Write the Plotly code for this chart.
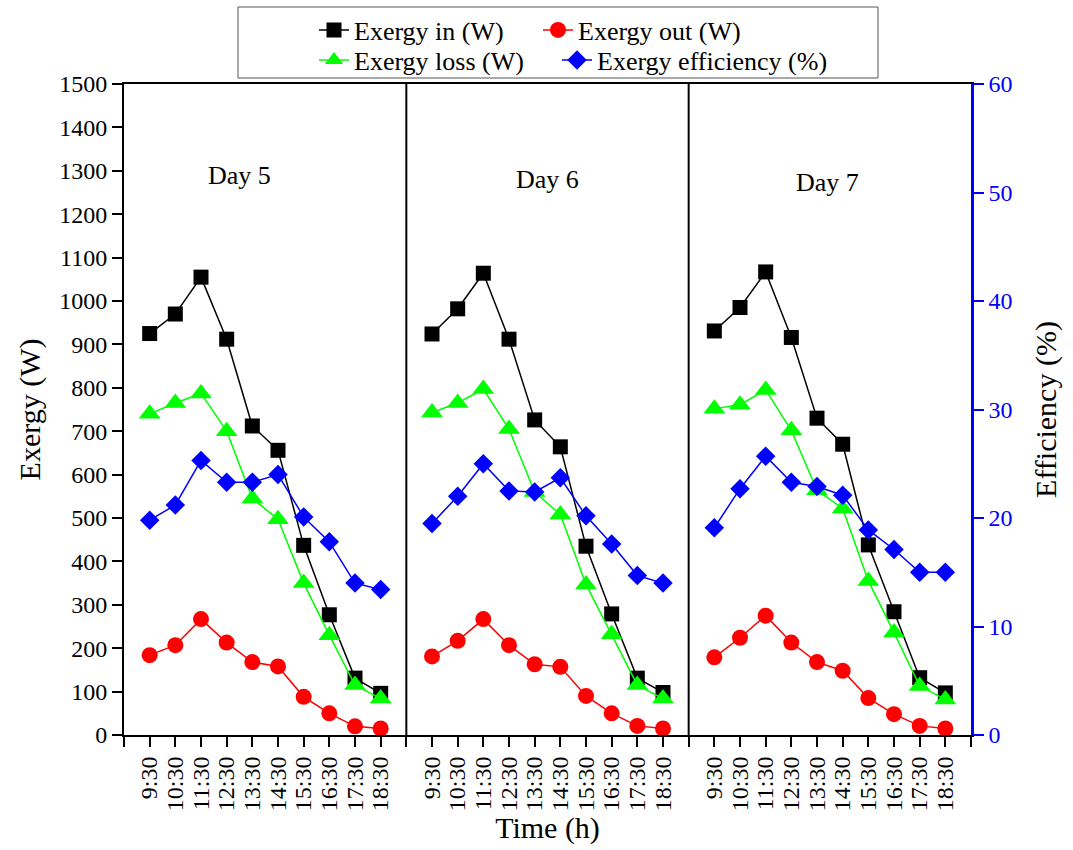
import plotly.graph_objects as go

# Measurement times for each day
times = ["9:30", "10:30", "11:30", "12:30", "13:30", "14:30", "15:30", "16:30", "17:30", "18:30"]
days = ["Day 5", "Day 6", "Day 7"]

# Hourly values, one inner list per day (Day 5, Day 6, Day 7)
exergy_in = [
    [925, 970, 1055, 912, 712, 656, 437, 277, 131, 96],
    [924, 982, 1064, 912, 726, 664, 435, 279, 131, 98],
    [931, 985, 1067, 916, 730, 670, 438, 284, 132, 97],
]
exergy_out = [
    [184, 207, 267, 213, 168, 158, 88, 50, 20, 15],
    [181, 217, 267, 207, 163, 157, 90, 50, 21, 15],
    [179, 224, 275, 213, 168, 148, 85, 48, 21, 15],
]
exergy_loss = [
    [740, 765, 787, 700, 545, 497, 350, 230, 115, 84],
    [743, 765, 797, 705, 560, 508, 347, 232, 115, 84],
    [752, 761, 795, 702, 564, 522, 355, 236, 113, 82],
]
exergy_eff = [
    [19.8, 21.2, 25.3, 23.3, 23.3, 24.0, 20.1, 17.8, 14.0, 13.4],
    [19.5, 22.0, 25.0, 22.5, 22.4, 23.7, 20.2, 17.6, 14.7, 14.0],
    [19.1, 22.7, 25.7, 23.3, 22.9, 22.1, 18.9, 17.1, 15.0, 15.0],
]

FONT = "Liberation Serif, Times New Roman, serif"
n = len(times)
slot = n + 1  # each day panel spans n points plus one empty slot


def panel_series(values):
    """Flatten per-day lists onto one axis, breaking the line between days."""
    xs, ys = [], []
    for d, day_vals in enumerate(values):
        for i, v in enumerate(day_vals):
            xs.append(d * slot + i + 1)
            ys.append(v)
        xs.append(None)
        ys.append(None)
    return xs, ys


series = [
    ("Exergy in (W)", exergy_in, "#000000", "square", 15, "y", "legend"),
    ("Exergy out (W)", exergy_out, "#ff0000", "circle", 16, "y", "legend2"),
    ("Exergy loss (W)", exergy_loss, "#00ff00", "triangle-up", 19, "y", "legend3"),
    ("Exergy efficiency (%)", exergy_eff, "#0000ff", "diamond", 15, "y2", "legend4"),
]

fig = go.Figure()
for name, vals, color, symbol, size, yax, leg in series:
    xs, ys = panel_series(vals)
    fig.add_trace(go.Scatter(
        x=xs, y=ys, name=name, mode="lines+markers", yaxis=yax, legend=leg,
        line=dict(color=color, width=1.5),
        marker=dict(symbol=symbol, size=size, color=color, line=dict(width=0)),
        connectgaps=False,
    ))

# Tick positions: every slot, labels only at the measurement points
total = slot * len(days)
tickvals = list(range(total + 1))
ticktext = []
for t in tickvals:
    k = t % slot
    ticktext.append("" if k == 0 else times[k - 1])

# Vertical separators between the day panels
shapes = []
for d in range(1, len(days)):
    shapes.append(dict(type="line", xref="x", yref="paper", x0=d * slot, x1=d * slot,
                       y0=0, y1=1, line=dict(color="black", width=2)))

# Frame around the legend entries
W, H = 1073, 850
L, R, T, B = 124, 102, 84, 115
pw, ph = W - L - R, H - T - B


def px_x(px):
    return (px - L) / pw


def px_y(py):
    return (H - B - py) / ph


shapes.append(dict(type="rect", xref="paper", yref="paper",
                   x0=px_x(238), x1=px_x(878), y0=px_y(78), y1=px_y(7),
                   line=dict(color="#555555", width=1), fillcolor="rgba(0,0,0,0)"))

# Day labels above each panel
day_x = [4.5, 16.5, 27.4]
day_y = [1290, 1280, 1272]
annotations = [
    dict(x=x, y=y, xref="x", yref="y", text=d, showarrow=False,
         font=dict(family=FONT, size=26, color="black"))
    for d, x, y in zip(days, day_x, day_y)
]

legend_common = dict(font=dict(family=FONT, size=26, color="black"),
                     bgcolor="rgba(0,0,0,0)", borderwidth=0,
                     xanchor="left", yanchor="middle", orientation="v")

fig.update_layout(
    width=W, height=H,
    margin=dict(l=L, r=R, t=T, b=B, autoexpand=False),
    paper_bgcolor="white", plot_bgcolor="white",
    font=dict(family=FONT, size=24, color="black"),
    showlegend=True,
    legend=dict(x=px_x(314), y=px_y(30), **legend_common),
    legend2=dict(x=px_x(538), y=px_y(30), **legend_common),
    legend3=dict(x=px_x(314), y=px_y(60), **legend_common),
    legend4=dict(x=px_x(557), y=px_y(60), **legend_common),
    shapes=shapes,
    annotations=annotations,
    xaxis=dict(
        range=[0, total], tickmode="array", tickvals=tickvals, ticktext=ticktext,
        tickangle=-90, ticks="outside", ticklen=10, tickwidth=2, tickcolor="black",
        showline=True, linecolor="black", linewidth=2, mirror=True,
        showgrid=False, zeroline=False,
        tickfont=dict(family=FONT, size=24, color="black"),
        title=dict(text="Time (h)", font=dict(family=FONT, size=30, color="black"), standoff=2),
    ),
    yaxis=dict(
        range=[0, 1500], dtick=100, tick0=0, ticks="outside", ticklen=10, tickwidth=2,
        tickcolor="black", showline=True, linecolor="black", linewidth=2,
        showgrid=False, zeroline=False,
        tickfont=dict(family=FONT, size=24, color="black"),
        title=dict(text="Exergy (W)", font=dict(family=FONT, size=30, color="black"), standoff=10),
    ),
    yaxis2=dict(
        overlaying="y", side="right", range=[0, 60], dtick=10, tick0=0,
        ticks="outside", ticklen=10, tickwidth=2, tickcolor="#0000ff",
        showline=True, linecolor="#0000ff", linewidth=2.5,
        showgrid=False, zeroline=False,
        tickfont=dict(family=FONT, size=24, color="#0000ff"),
        title=dict(text="Efficiency (%)", font=dict(family=FONT, size=30, color="black"), standoff=24),
    ),
)

fig.write_html("out.html")
